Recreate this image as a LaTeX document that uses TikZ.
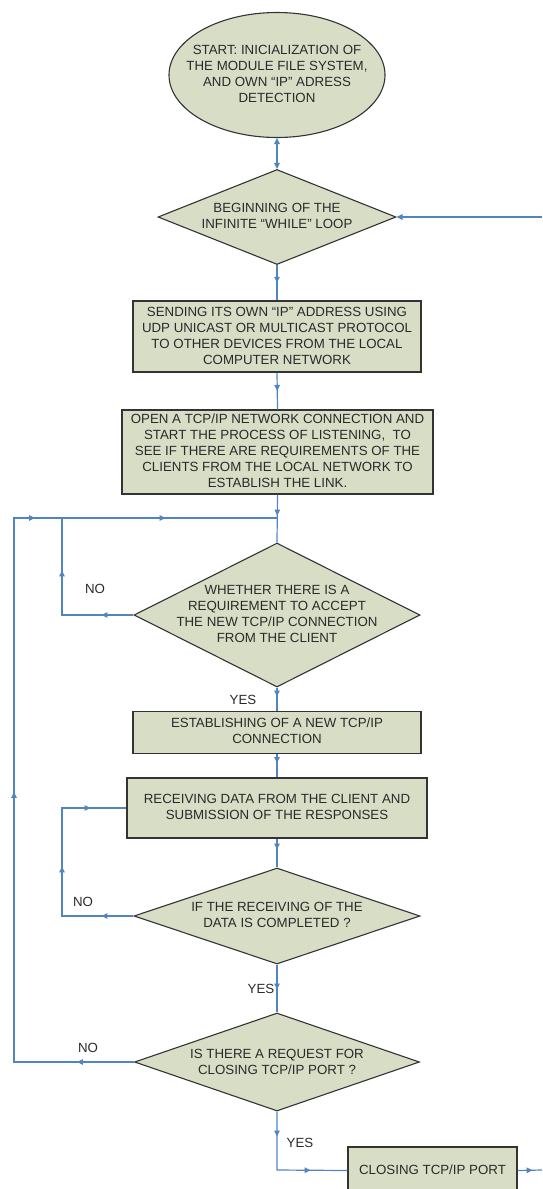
\documentclass[tikz,border=0pt]{standalone}
\usepackage{fontspec}
\setmainfont{Liberation Sans}
\usetikzlibrary{shapes.geometric,arrows.meta,decorations.markings}
\definecolor{boxfill}{HTML}{D8DDC6}
\definecolor{flowblue}{HTML}{5284C0}
\definecolor{edgec}{HTML}{333333}
\definecolor{txtc}{HTML}{2A2A2A}
\tikzset{
 tipat/.style={postaction={decorate,decoration={markings,mark=at position #1 with {\arrow{Triangle[length=6pt,width=5.5pt]}}}}},
 flow/.style={draw=flowblue,line width=1.2pt},
 shapebox/.style={draw=edgec,fill=boxfill,line width=1.1pt,inner sep=0pt},
 procbox/.style={shapebox,rectangle},
 decbox/.style={shapebox,diamond},
 txt/.style={font=\fontsize{13.3}{16}\selectfont,text=txtc,align=center,inner sep=0pt},
}
\begin{document}
\begin{tikzpicture}[x=1pt,y=-1pt]
\useasboundingbox (0,0) rectangle (542,1189);
% shapes
\node[shapebox,ellipse,minimum width=216pt,minimum height=125pt] (start) at (277,75) {};
\node[txt] (startt) at (277,74) {START: INICIALIZATION OF\\THE MODULE FILE SYSTEM,\\AND OWN “IP” ADRESS\\DETECTION};
\node[decbox,minimum width=238pt,minimum height=95pt] (d1) at (277,217) {};
\node[txt] (d1t) at (277,216) {BEGINNING OF THE\\INFINITE “WHILE” LOOP};
\node[procbox,minimum width=288pt,minimum height=71pt] (b1) at (277,336.5) {};
\node[txt] (b1t) at (277,336) {SENDING ITS OWN “IP” ADDRESS USING\\UDP UNICAST OR MULTICAST PROTOCOL\\TO OTHER DEVICES FROM THE LOCAL\\COMPUTER NETWORK};
\node[procbox,minimum width=311pt,minimum height=84pt] (b2) at (277.5,452) {};
\node[txt] (b2t) at (277.5,451) {OPEN A TCP/IP NETWORK CONNECTION AND\\START THE PROCESS OF LISTENING, \ TO\\SEE IF THERE ARE REQUIREMENTS OF THE\\CLIENTS FROM THE LOCAL NETWORK TO\\ESTABLISH THE LINK.};
\node[decbox,minimum width=286pt,minimum height=144pt] (d2) at (277,615) {};
\node[txt] (d2t) at (277,614) {WHETHER THERE IS A\\REQUIREMENT TO ACCEPT\\THE NEW TCP/IP CONNECTION\\FROM THE CLIENT};
\node[procbox,minimum width=288pt,minimum height=42pt] (b3) at (277,732.5) {};
\node[txt] (b3t) at (277,731) {ESTABLISHING OF A NEW TCP/IP\\CONNECTION};
\node[procbox,minimum width=300pt,minimum height=60pt] (b4) at (277,808) {};
\node[txt] (b4t) at (277,807) {RECEIVING DATA FROM THE CLIENT AND\\SUBMISSION OF THE RESPONSES};
\node[decbox,minimum width=286pt,minimum height=96pt] (d3) at (277,916) {};
\node[txt] (d3t) at (277,915) {IF THE RECEIVING OF THE\\DATA IS COMPLETED ?};
\node[decbox,minimum width=285pt,minimum height=98pt] (d4) at (277,1062) {};
\node[txt] (d4t) at (277,1062) {IS THERE A REQUEST FOR\\CLOSING TCP/IP PORT ?};
\node[procbox,minimum width=169pt,minimum height=47pt] (b5) at (432.5,1170.5) {};
\node[txt] (b5t) at (432.5,1170) {CLOSING TCP/IP PORT};
% coordinates
\coordinate (rin) at (542,217);
\coordinate (j) at (277,518);
\coordinate (c2) at (62,518);
\coordinate (c3) at (62,808);
\coordinate (c4) at (14,518);
\coordinate (c5) at (277,1170);
\coordinate (rout) at (542,1170);
% connectors
\draw[flow,{Triangle[length=6pt,width=5.5pt]}-{Triangle[length=6pt,width=5.5pt]}] (start.south) -- (d1.north);
\draw[flow,-{Triangle[length=6pt,width=5.5pt]}] (rin) -- (d1.east);
\draw[flow,tipat=0.5] (d1.south) -- (b1.north);
\draw[flow,tipat=0.5] (b1.south) -- (b2.north);
\draw[flow,tipat=21pt] (b2.south) -- (d2.north);
\draw[flow,tipat=32pt,tipat=116pt,tipat=272pt] (d2.west) -| (c2) -- (j);
\draw[flow,tipat=57pt,tipat=390pt,tipat=685pt] (d4.west) -| (c4) -- (j);
\draw[flow,tipat=9pt] (d2.south) -- (b3.north);
\draw[flow,tipat=9pt] (b3.south) -- (b4.north);
\draw[flow,tipat=11pt] (b4.south) -- (d3.north);
\draw[flow,tipat=32pt,tipat=121pt,tipat=208pt] (d3.west) -| (c3) -- (b4.west);
\draw[flow,tipat=25pt] (d3.south) -- (d4.north);
\draw[flow,tipat=25pt,tipat=92pt] (d4.south) -- (c5) -- (b5.west);
\draw[flow,tipat=15pt] (b5.east) -- (rout);
% labels
\node[txt] (no2) at (95,589) {NO};
\node[txt] (yes2) at (243,700) {YES};
\node[txt] (no3) at (83,902) {NO};
\node[txt] (yes3) at (261,989) {YES};
\node[txt] (no4) at (88,1048) {NO};
\node[txt] (yes4) at (300,1143) {YES};
\end{tikzpicture}
\end{document}
